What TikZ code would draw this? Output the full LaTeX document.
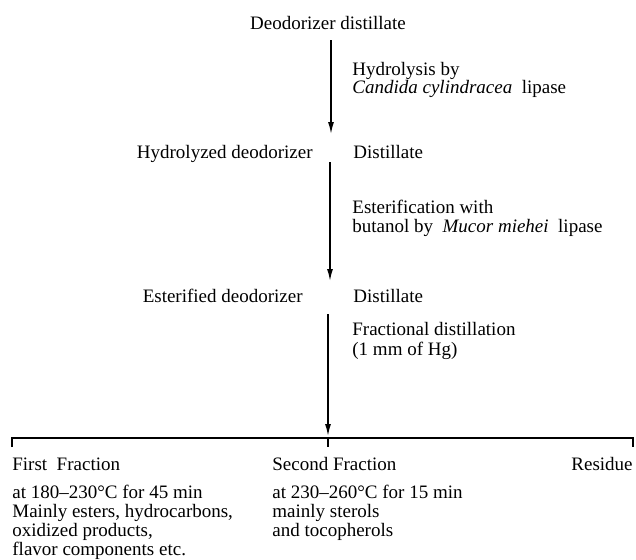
\documentclass[tikz,border=0pt]{standalone}
\usepackage{fontspec}
\setmainfont{Liberation Serif}
\usetikzlibrary{arrows.meta}
\begin{document}
\begin{tikzpicture}[x=0.5pt,y=-0.5pt,
  txt/.style={inner sep=0pt,font=\fontsize{9.5}{9.5}\selectfont},
  flow/.style={line width=0.75pt,-{Latex[length=6pt,width=3pt]}},
  rule/.style={line width=0.75pt}]
\useasboundingbox (0,0) rectangle (636,559);
% title
\node[txt,anchor=base] (title) at (328,29) {Deodorizer distillate};
% step 1
\coordinate (a1s) at (331,40);
\coordinate (a1e) at (331,134);
\draw[flow] (a1s) -- (a1e);
\node[txt,anchor=base west] (h1) at (352,75) {Hydrolysis by};
\node[txt,anchor=base west] (h2) at (352,93) {\textit{Candida cylindracea}\ \ lipase};
\node[txt,anchor=base east] (hyd) at (313,158) {Hydrolyzed deodorizer};
\node[txt,anchor=base west] (dist1) at (353,158) {Distillate};
% step 2
\coordinate (a2s) at (330,162);
\coordinate (a2e) at (330,281);
\draw[flow] (a2s) -- (a2e);
\node[txt,anchor=base west] (e1) at (352,213) {Esterification with};
\node[txt,anchor=base west] (e2) at (352,232) {butanol by\ \ \textit{Mucor miehei}\ \ lipase};
\node[txt,anchor=base east] (est) at (303,302) {Esterified deodorizer};
\node[txt,anchor=base west] (dist2) at (353,302) {Distillate};
% step 3
\coordinate (a3s) at (328,314);
\coordinate (a3e) at (328,436);
\draw[flow] (a3s) -- (a3e);
\node[txt,anchor=base west] (f1) at (352,335) {Fractional distillation};
\node[txt,anchor=base west] (f2) at (352,355) {(1 mm of Hg)};
% bracket
\coordinate (bl) at (12,447);
\coordinate (br) at (633,447);
\coordinate (bc) at (328,438);
\coordinate (bct) at (328,447);
\draw[rule] (bl) -- (12,438) -- (633,438) -- (br);
\draw[rule] (bc) -- (bct);
% fractions
\node[txt,anchor=base west] (ff) at (12,470) {First\ \ Fraction};
\node[txt,anchor=base west] (sf) at (272,470) {Second Fraction};
\node[txt,anchor=base east] (res) at (633,470) {Residue};
\node[txt,anchor=base west] (ff1) at (12,498) {at 180–230°C for 45 min};
\node[txt,anchor=base west] (ff2) at (12,517) {Mainly esters, hydrocarbons,};
\node[txt,anchor=base west] (ff3) at (12,536) {oxidized products,};
\node[txt,anchor=base west] (ff4) at (12,555) {flavor components etc.};
\node[txt,anchor=base west] (sf1) at (272,498) {at 230–260°C for 15 min};
\node[txt,anchor=base west] (sf2) at (272,517) {mainly sterols};
\node[txt,anchor=base west] (sf3) at (272,536) {and tocopherols};
\end{tikzpicture}
\end{document}
